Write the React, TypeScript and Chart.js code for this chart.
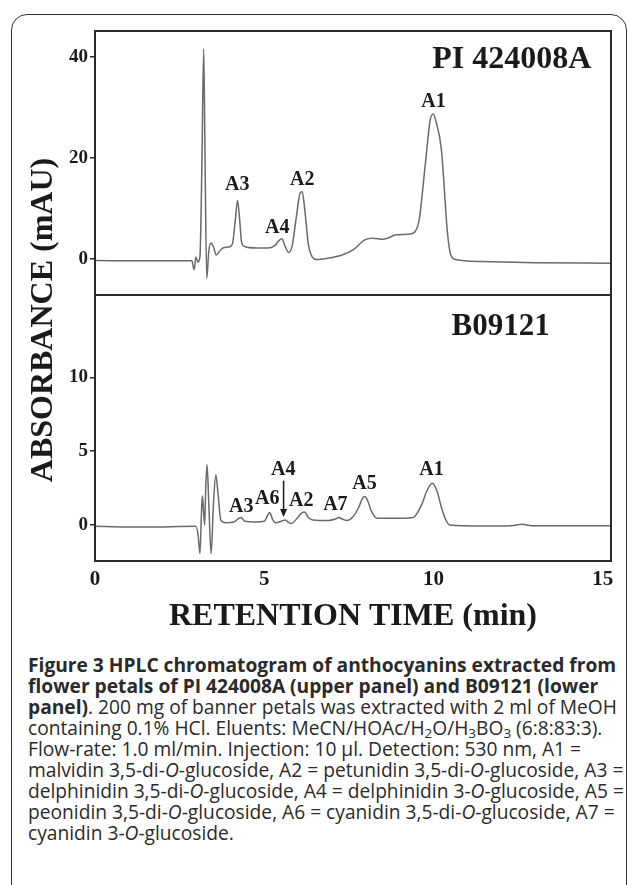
import React, { useEffect, useRef } from 'react';
import { Chart, registerables } from 'chart.js';

Chart.register(...registerables);

// ---------- data (retention time in min, absorbance in mAU) ----------
const upperTime = [
  0.0, 1.5, 2.86, 2.93, 2.98, 3.04, 3.1, 3.16, 3.21, 3.25, 3.3, 3.36, 3.42, 3.5, 3.58, 3.66, 3.78, 3.95,
  4.06, 4.14, 4.21, 4.27, 4.33, 4.42, 4.76, 5.1, 5.3, 5.44, 5.52, 5.6, 5.72, 5.82, 5.95, 6.06, 6.12, 6.2,
  6.3, 6.42, 6.55, 6.9, 7.26, 7.62, 7.97, 8.2, 8.5, 8.63, 8.9, 9.25, 9.45, 9.58, 9.75, 9.9, 9.99, 10.08,
  10.23, 10.41, 10.5, 10.65, 11.4, 13.0, 15.24,
];
const upperAbs = [
  -0.3, -0.35, -0.35, -2.1, 0.4, -0.6, 0.5, 20, 41.6, 20, -3.8, 1.5, 3.2, 2.4, 0.8, 1.4, 2.2, 2.4,
  3.0, 7.5, 11.6, 8.0, 3.3, 2.5, 2.2, 2.2, 2.6, 3.7, 4.0, 2.8, 1.3, 2.5, 8.5, 13.1, 13.3, 9.5,
  3.0, 0.4, -0.1, 0.2, 0.7, 1.8, 3.8, 4.1, 3.9, 4.1, 4.8, 4.9, 5.4, 8.0, 18.4, 27.5, 28.7, 27,
  21.7, 5.2, 1.0, -0.1, -0.5, -0.7, -0.8,
];
const lowerTime = [
  0.0, 1.5, 2.98, 3.05, 3.1, 3.14, 3.17, 3.21, 3.24, 3.27, 3.31, 3.36, 3.43, 3.5, 3.57, 3.63, 3.72, 3.87,
  4.1, 4.25, 4.32, 4.42, 4.76, 5.0, 5.1, 5.16, 5.24, 5.33, 5.5, 5.62, 5.72, 5.81, 5.95, 6.1, 6.19, 6.3,
  6.43, 6.9, 7.1, 7.2, 7.32, 7.44, 7.62, 7.79, 7.9, 7.97, 8.06, 8.15, 8.33, 9.04, 9.4, 9.64, 9.8, 9.96,
  10.1, 10.23, 10.35, 10.47, 11.42, 12.3, 12.61, 12.9, 15.24,
];
const lowerAbs = [
  -0.1, -0.15, -0.1, -0.8, -1.95, 0.5, 1.97, 0.8, 0.0, 2.5, 4.08, 1.5, -1.95, 1.5, 3.4, 2.2, 0.3, 0.15,
  0.2, 0.45, 0.5, 0.25, 0.2, 0.25, 0.65, 0.84, 0.4, 0.15, 0.25, 0.34, 0.15, 0.1, 0.4, 0.8, 0.88, 0.5,
  0.34, 0.3, 0.4, 0.5, 0.38, 0.3, 0.55, 1.2, 1.8, 1.93, 1.6, 1.0, 0.45, 0.45, 0.5, 1.34, 2.3, 2.83,
  2.3, 1.2, 0.4, 0.0, -0.07, -0.05, 0.05, -0.05, -0.05,
];

const xTicks = [0, 5, 10, 15];
const upperTicks = [0, 20, 40];
const lowerTicks = [0, 5, 10];

const upperPeakNames = ['A3', 'A4', 'A2', 'A1'];
const upperPeakX = [4.2, 5.38, 6.12, 10.0];
const upperPeakY = [14.65, 6.1, 15.6, 31.1];

const lowerPeakNames = ['A3', 'A6', 'A4', 'A2', 'A7', 'A5', 'A1'];
const lowerPeakX = [4.32, 5.09, 5.56, 6.09, 7.1, 7.96, 9.94];
const lowerPeakY = [1.22, 1.77, 3.74, 1.63, 1.36, 2.79, 3.74];

const sampleNames = ['PI 424008A', 'B09121'];
const sampleX = [12.31, 11.98];
const sampleY = [39.4, 13.4];

// arrow for A4 in lower panel: [x, yFrom, yTo]
const arrowA4 = [5.57, 3.0, 0.54];

const xTitle = 'RETENTION TIME (min)';
const yTitle = 'ABSORBANCE (mAU)';

const SERIF = '"Liberation Serif", "Times New Roman", serif';
const AXIS = '#2a2a2a';
const TRACE = '#6a6a6a';
const TEXT = '#1a1a1a';

function toPoints(xs: number[], ys: number[]) {
  return xs.map((x, i) => ({ x, y: ys[i] }));
}

export default function App() {
  const ref = useRef<HTMLCanvasElement>(null);

  useEffect(() => {
    const canvas = ref.current;
    if (!canvas) return;

    const overlay = {
      id: 'overlay',
      afterDraw(chart: any) {
        const c = chart.ctx as CanvasRenderingContext2D;
        const a = chart.chartArea;
        const xs = chart.scales.x;
        const yt = chart.scales.yTop;
        const yb = chart.scales.yBot;
        c.save();
        // frame and divider
        c.strokeStyle = AXIS;
        c.lineWidth = 2;
        c.strokeRect(a.left, a.top, a.right - a.left, a.bottom - a.top);
        c.beginPath();
        c.moveTo(a.left, yt.bottom);
        c.lineTo(a.right, yt.bottom);
        c.stroke();

        c.fillStyle = TEXT;
        c.textAlign = 'center';
        c.textBaseline = 'middle';
        // sample names
        c.font = `bold 32px ${SERIF}`;
        c.fillText(sampleNames[0], xs.getPixelForValue(sampleX[0]), yt.getPixelForValue(sampleY[0]));
        c.font = `bold 31px ${SERIF}`;
        c.fillText(sampleNames[1], xs.getPixelForValue(sampleX[1]), yb.getPixelForValue(sampleY[1]));
        // peak labels
        c.font = `bold 20px ${SERIF}`;
        upperPeakNames.forEach((n, i) => {
          c.fillText(n, xs.getPixelForValue(upperPeakX[i]), yt.getPixelForValue(upperPeakY[i]));
        });
        lowerPeakNames.forEach((n, i) => {
          c.fillText(n, xs.getPixelForValue(lowerPeakX[i]), yb.getPixelForValue(lowerPeakY[i]));
        });
        // arrow
        const ax = xs.getPixelForValue(arrowA4[0]);
        const ay1 = yb.getPixelForValue(arrowA4[1]);
        const ay2 = yb.getPixelForValue(arrowA4[2]);
        c.strokeStyle = TEXT;
        c.lineWidth = 1.5;
        c.beginPath();
        c.moveTo(ax, ay1);
        c.lineTo(ax, ay2 - 2);
        c.stroke();
        c.beginPath();
        c.moveTo(ax, ay2);
        c.lineTo(ax - 3.5, ay2 - 8);
        c.lineTo(ax + 3.5, ay2 - 8);
        c.closePath();
        c.fill();
        // y title
        c.save();
        c.translate(44, 320);
        c.rotate(-Math.PI / 2);
        c.font = `bold 32px ${SERIF}`;
        c.fillText(yTitle, 0, 0);
        c.restore();
        c.restore();
      },
    };

    const yCommon = {
      type: 'linear' as const,
      position: 'left' as const,
      stack: 'panels',
      border: { display: false },
      grid: { display: true, drawOnChartArea: false, drawTicks: true, tickLength: 5, color: AXIS, lineWidth: 1.5 },
      ticks: { color: TEXT, padding: 2, font: { family: SERIF, size: 19, weight: 'bold' as const } },
      afterFit: (s: any) => {
        s.width = 95;
      },
    };

    const chart = new Chart(canvas, {
      type: 'line',
      data: {
        datasets: [
          {
            data: toPoints(upperTime, upperAbs),
            yAxisID: 'yTop',
            borderColor: TRACE,
            borderWidth: 1.5,
            pointRadius: 0,
            cubicInterpolationMode: 'monotone',
          },
          {
            data: toPoints(lowerTime, lowerAbs),
            yAxisID: 'yBot',
            borderColor: TRACE,
            borderWidth: 1.5,
            pointRadius: 0,
            cubicInterpolationMode: 'monotone',
          },
        ],
      },
      options: {
        responsive: false,
        animation: false,
        layout: { padding: { left: 0, top: 31, right: 19, bottom: 0 } },
        plugins: { legend: { display: false }, tooltip: { enabled: false } },
        scales: {
          x: {
            type: 'linear',
            min: 0,
            max: 15.24,
            border: { display: false },
            grid: { display: false, drawTicks: false },
            afterBuildTicks: (s: any) => {
              s.ticks = xTicks.map((v) => ({ value: v }));
            },
            ticks: { color: TEXT, padding: 6, maxRotation: 0, font: { family: SERIF, size: 21, weight: 'bold' } },
            title: {
              display: true,
              text: xTitle,
              color: TEXT,
              padding: { top: 0, bottom: 14 },
              font: { family: SERIF, size: 32, weight: 'bold' },
            },
            afterFit: (s: any) => {
              s.height = 89;
            },
          },
          yBot: {
            ...yCommon,
            min: -2.45,
            max: 15.6,
            stackWeight: 266,
            afterBuildTicks: (s: any) => {
              s.ticks = lowerTicks.map((v) => ({ value: v }));
            },
          },
          yTop: {
            ...yCommon,
            min: -7.1,
            max: 45.1,
            stackWeight: 264,
            afterBuildTicks: (s: any) => {
              s.ticks = upperTicks.map((v) => ({ value: v }));
            },
          },
        },
      } as any,
      plugins: [overlay],
    });
    return () => chart.destroy();
  }, []);

  const sub: React.CSSProperties = { fontSize: '0.7em', lineHeight: 0, verticalAlign: '-0.25em' };
  const lines: React.ReactNode[] = [
    <b key="1">Figure 3 HPLC chromatogram of anthocyanins extracted from</b>,
    <b key="2">flower petals of PI 424008A (upper panel) and B09121 (lower</b>,
    <span key="3"><b>panel)</b>. 200 mg of banner petals was extracted with 2 ml of MeOH</span>,
    <span key="4">
      containing 0.1% HCl. Eluents: MeCN/HOAc/H<sub style={sub}>2</sub>O/H<sub style={sub}>3</sub>BO<sub style={sub}>3</sub> (6:8:83:3).
    </span>,
    <span key="5">Flow-rate: 1.0 ml/min. Injection: 10 µl. Detection: 530 nm, A1 =</span>,
    <span key="6">malvidin 3,5-di-<i>O</i>-glucoside, A2 = petunidin 3,5-di-<i>O</i>-glucoside, A3 =</span>,
    <span key="7">delphinidin 3,5-di-<i>O</i>-glucoside, A4 = delphinidin 3-<i>O</i>-glucoside, A5 =</span>,
    <span key="8">peonidin 3,5-di-<i>O</i>-glucoside, A6 = cyanidin 3,5-di-<i>O</i>-glucoside, A7 =</span>,
    <span key="9">cyanidin 3-<i>O</i>-glucoside.</span>,
  ];

  return (
    <div style={{ position: 'fixed', left: 0, top: 0, width: 630, height: 885, overflow: 'hidden', background: '#fff' }}>
      <div
        style={{
          position: 'absolute',
          left: 11,
          top: 14,
          width: 616,
          height: 920,
          border: '1.5px solid #333',
          borderRadius: 16,
          boxSizing: 'border-box',
        }}
      />
      <canvas ref={ref} width={630} height={650} style={{ position: 'absolute', left: 0, top: 0, width: 630, height: 650 }} />
      <div
        style={{
          position: 'absolute',
          left: 28,
          top: 654,
          fontFamily: '"Open Sans", "Noto Sans", sans-serif',
          fontSize: 19.2,
          lineHeight: '21px',
          color: '#2a2a2a',
          whiteSpace: 'nowrap',
        }}
      >
        {lines.map((l, i) => (
          <div key={i}>{l}</div>
        ))}
      </div>
    </div>
  );
}
